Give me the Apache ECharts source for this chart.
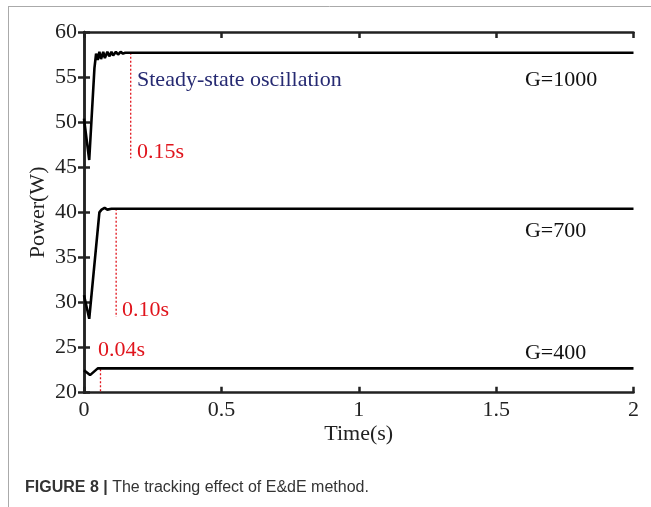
<!DOCTYPE html>
<html>
<head>
<meta charset="utf-8">
<script src="https://cdn.jsdelivr.net/npm/echarts@6/dist/echarts.min.js"></script>
<style>html,body{margin:0;padding:0;background:#fff;}#c{width:651px;height:507px;}</style>
</head>
<body>
<div id="c"></div>
<script>
// Power (W) vs time (s)
const g1000 = [[0,50.4],[0.019,45.8],[0.038,56.0],[0.044,57.6],[0.050,56.9],[0.056,57.8],[0.062,57.0],[0.070,57.8],[0.076,57.1],[0.085,57.8],[0.092,57.3],[0.100,57.8],[0.106,57.4],[0.116,57.8],[0.124,57.5],[0.133,57.8],[0.142,57.6],[0.150,57.7],[2,57.7]];
const g700 = [[0,30.8],[0.019,28.2],[0.056,40.0],[0.064,40.3],[0.075,40.5],[0.085,40.3],[0.100,40.4],[2,40.4]];
const g400 = [[0,22.5],[0.022,21.95],[0.050,22.7],[2,22.7]];
// settling markers: [time, top value, bottom value]
const markerLines = [[0.17,57.7,46.0],[0.117,40.4,28.4],[0.06,22.6,20.1]];
// annotation texts and anchors
const annoTexts = ['Steady-state oscillation','0.15s','0.10s','0.04s','G=1000','G=700','G=400'];
const annoPos = [[0.193,54.7],[0.193,46.7],[0.138,29.2],[0.051,24.7],[1.605,54.7],[1.605,37.9],[1.605,24.4]];
const annoColors = ['#262a72','#e0141c','#e0141c','#e0141c','#111','#111','#111'];
const xTicks = ['0','0.5','1','1.5','2'];

const serif = 'Liberation Serif';
const axisCol = '#222';
const chart = echarts.init(document.getElementById('c'));
const series = [];
[g1000, g700, g400].forEach(d => series.push({
  type:'line', data:d, symbol:'none', xAxisIndex:0, yAxisIndex:0,
  lineStyle:{color:'#000', width:2.6}, silent:true, animation:false
}));
markerLines.forEach(m => series.push({
  type:'line', data:[[m[0],m[1]],[m[0],m[2]]], symbol:'none',
  lineStyle:{color:'#e0141c', width:1.3, type:[2,2]}, silent:true, animation:false, z:1
}));
series.push({
  type:'scatter', symbolSize:0, silent:true, animation:false,
  itemStyle:{opacity:1},
  data: annoPos.map((p,i)=>({value:p, label:{formatter:annoTexts[i], color:annoColors[i]}})),
  label:{show:true, position:'right', distance:0, fontFamily:serif, fontSize:22, opacity:1}
});

chart.setOption({
  animation:false,
  grid:{left:84, right:17.5, top:32, bottom:114.3},
  xAxis:[{
    type:'value', min:0, max:2, interval:0.5,
    axisLine:{lineStyle:{color:axisCol, width:2.5}},
    axisTick:{inside:true, length:6, lineStyle:{color:axisCol, width:2.5}},
    axisLabel:{fontFamily:serif, fontSize:22, color:axisCol, margin:7,
      formatter:(v)=>xTicks[Math.round(v/0.5)]},
    splitLine:{show:false},
    name:'Time(s)', nameLocation:'middle', nameGap:31, nameMoveOverlap:false,
    nameTextStyle:{fontFamily:serif, fontSize:22, color:axisCol}
  },{
    type:'value', position:'top', min:0, max:2, interval:0.5,
    axisLine:{show:true, lineStyle:{color:axisCol, width:2.5}},
    axisTick:{inside:true, length:6, lineStyle:{color:axisCol, width:2.5}},
    axisLabel:{show:false}, splitLine:{show:false}
  }],
  yAxis:[{
    type:'value', min:20, max:60, interval:5,
    axisLine:{show:true, lineStyle:{color:axisCol, width:2.5}},
    axisTick:{show:true, inside:true, length:6, lineStyle:{color:axisCol, width:2.5}},
    axisLabel:{fontFamily:serif, fontSize:22, color:axisCol, margin:7},
    splitLine:{show:false},
    name:'Power(W)', nameLocation:'middle', nameGap:35, nameMoveOverlap:false,
    nameTextStyle:{fontFamily:serif, fontSize:22, color:axisCol}
  },{
    type:'value', position:'right', min:20, max:60, interval:5,
    axisLine:{show:true, lineStyle:{color:axisCol, width:2.5}},
    axisTick:{show:true, inside:true, length:6, lineStyle:{color:axisCol, width:2.5}},
    axisLabel:{show:false}, splitLine:{show:false}
  }],
  series: series,
  graphic:[
    {type:'line', shape:{x1:8, y1:6.5, x2:651, y2:6.5}, style:{stroke:'#aaa', lineWidth:1}},
    {type:'line', shape:{x1:8.5, y1:6, x2:8.5, y2:507}, style:{stroke:'#aaa', lineWidth:1}},
    {type:'text', left:25, top:480, style:{
      text:'{b|FIGURE 8 |} The tracking effect of E&dE method.',
      font:'16px "Liberation Sans"', fill:'#333',
      rich:{b:{fontWeight:'bold', fontFamily:'Liberation Sans', fontSize:16, fill:'#333'}}
    }}
  ]
});
</script>
</body>
</html>
